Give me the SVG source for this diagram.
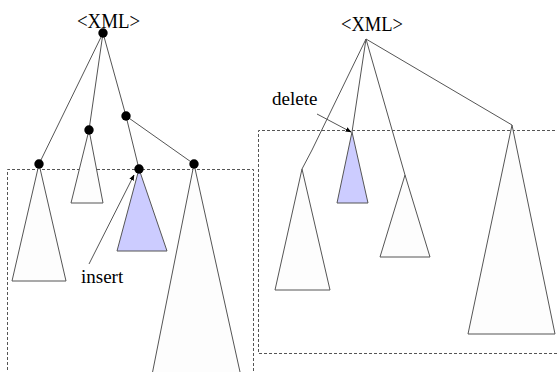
<svg xmlns="http://www.w3.org/2000/svg" width="557" height="372" viewBox="0 0 557 372">
<style>
.ln{stroke:#555;stroke-width:1;fill:none}
.tri{stroke:#555;stroke-width:1;fill:#fdfdfd}
.blue{stroke:#555;stroke-width:1;fill:#ccccff}
.dash{stroke:#555;stroke-width:1;fill:none;stroke-dasharray:3,2}
.dot{fill:#000}
.t{font-family:"Liberation Serif","Times New Roman",serif;fill:#000}
</style>
<defs>
<marker id="ah" viewBox="0 0 10 10" refX="9" refY="5" markerWidth="6" markerHeight="6" orient="auto"><path d="M0,1 L10,5 L0,9 z" fill="#000"/></marker>
</defs>
<rect width="557" height="372" fill="#fff"/>
<g id="frames">
<polyline class="dash" points="7.5,380 7.5,169.5 253.5,169.5 253.5,380"/>
<polyline class="dash" points="560,130.5 258.5,130.5 258.5,353.5 560,353.5"/>
</g>
<g id="connectors">
<line class="ln" x1="103" y1="33" x2="39" y2="164"/>
<line class="ln" x1="103" y1="33" x2="89" y2="130"/>
<line class="ln" x1="103" y1="33" x2="126" y2="116"/>
<line class="ln" x1="126" y1="116" x2="139" y2="169"/>
<line class="ln" x1="126" y1="116" x2="194" y2="164"/>
<line class="ln" x1="366" y1="39" x2="312" y2="150"/>
<line class="ln" x1="312" y1="150" x2="302" y2="169"/>
<line class="ln" x1="366" y1="39" x2="352" y2="132"/>
<line class="ln" x1="366" y1="39" x2="405" y2="175"/>
<line class="ln" x1="366" y1="39" x2="512" y2="125"/>
<line class="ln" x1="89" y1="264" x2="134" y2="175" stroke="#000" marker-end="url(#ah)"/>
<line class="ln" x1="317" y1="114" x2="351" y2="132" stroke="#000" marker-end="url(#ah)"/>
</g>
<g id="left-tree">
<g id="l-root"><text class="t" x="77" y="28" font-size="20" textLength="63" lengthAdjust="spacingAndGlyphs">&lt;XML&gt;</text><circle class="dot" cx="103" cy="33" r="4.7"/></g>
<g id="l-a"><polygon class="tri" points="39,164 12,281 66,281"/><circle class="dot" cx="39" cy="164" r="4.7"/></g>
<g id="l-b"><polygon class="tri" points="89,130 71,203 103,203"/><circle class="dot" cx="89" cy="130" r="4.7"/></g>
<g id="l-c"><circle class="dot" cx="126" cy="116" r="4.7"/></g>
<g id="l-d"><polygon class="blue" points="139,169 117,251 167,251"/><circle class="dot" cx="139" cy="169" r="4.7"/></g>
<g id="l-e"><polygon class="tri" points="194,164 149,390 244,390"/><circle class="dot" cx="194" cy="164" r="4.7"/></g>
<g id="l-insert"><text class="t" x="81" y="283" font-size="19">insert</text></g>
</g>
<g id="right-tree">
<g id="r-root"><text class="t" x="341" y="31" font-size="20" textLength="62" lengthAdjust="spacingAndGlyphs">&lt;XML&gt;</text></g>
<g id="r-a"><polygon class="tri" points="302,169 275,290 330,290" fill="#fff"/></g>
<g id="r-b"><polygon class="blue" points="352,132 337,203 368,203"/></g>
<g id="r-c"><polygon class="tri" points="405,175 380,257 430,257" fill="#fff"/></g>
<g id="r-d"><polygon class="tri" points="512,125 468,334 555,334" fill="#fff"/></g>
<g id="r-delete"><text class="t" x="272" y="105" font-size="19">delete</text></g>
</g>
</svg>
